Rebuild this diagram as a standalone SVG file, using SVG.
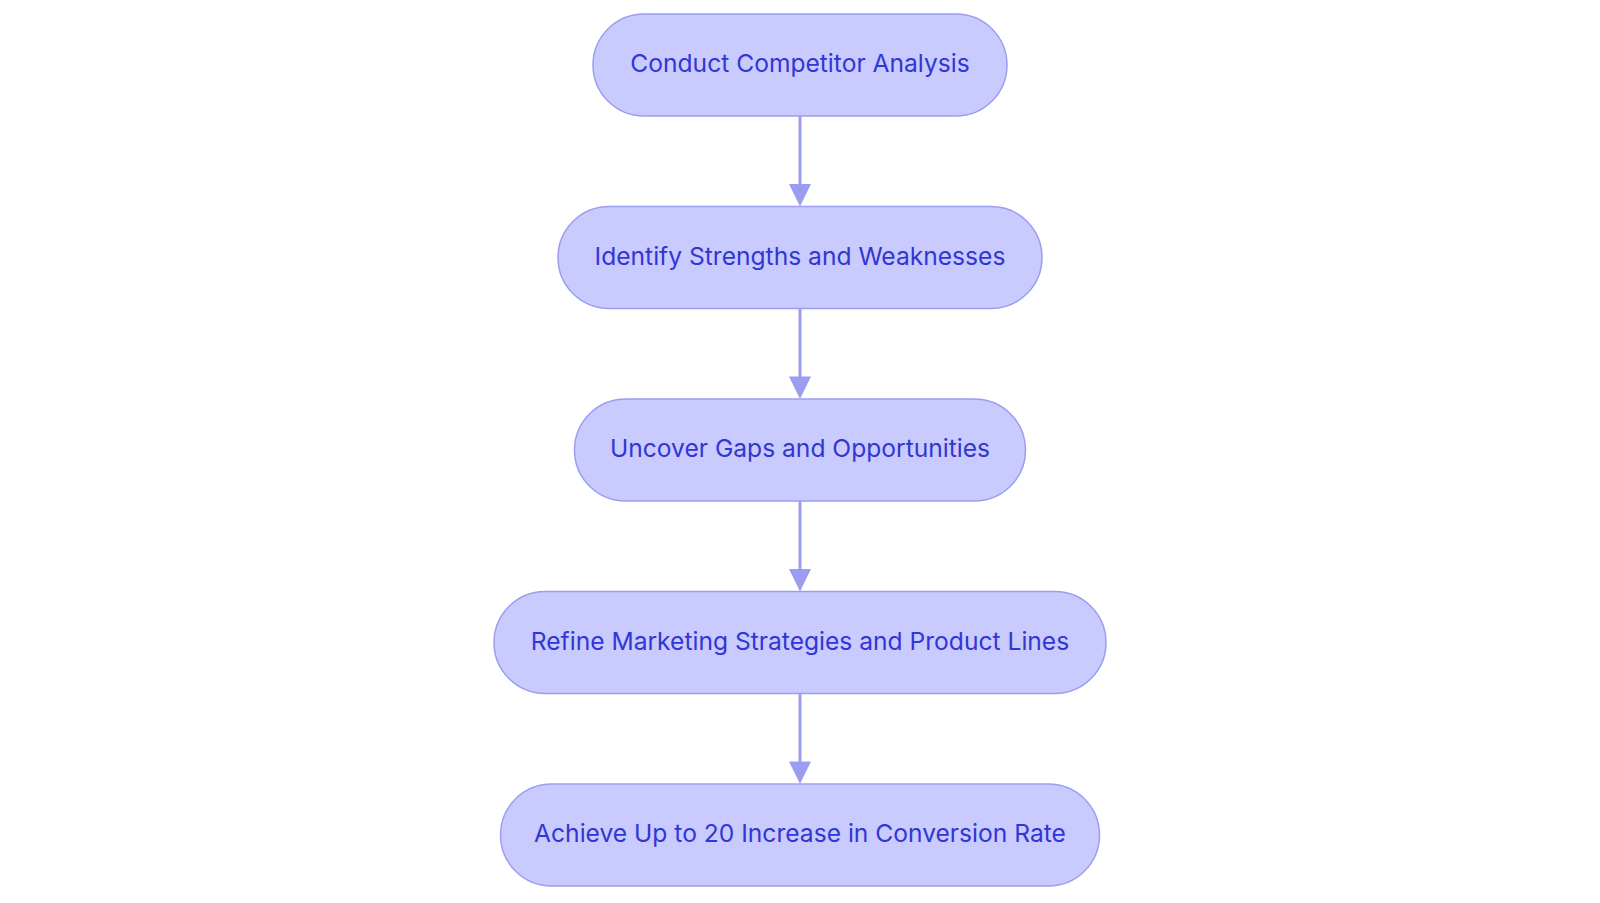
<svg xmlns="http://www.w3.org/2000/svg" width="1600" height="903" viewBox="0 0 1600 903">
<style>
.node rect{fill:#c9cafd;stroke:#9b9ef0;stroke-width:1.5}
.node text{font-family:Inter,"Noto Sans",sans-serif;font-size:24.6px;fill:#3136d4;text-anchor:middle;dominant-baseline:central}
.edge{stroke:#9b9ef0;stroke-width:3;fill:none}
.head{fill:#9b9ef0}
</style>
<rect width="1600" height="903" fill="#ffffff"/>
<g id="connectors">
<line class="edge" x1="800" y1="116" x2="800" y2="185"/>
<path class="head" d="M789,184 L811,184 L800,206.5 z"/>
<line class="edge" x1="800" y1="308.5" x2="800" y2="377.5"/>
<path class="head" d="M789,376.5 L811,376.5 L800,399 z"/>
<line class="edge" x1="800" y1="501" x2="800" y2="570"/>
<path class="head" d="M789,569 L811,569 L800,591.5 z"/>
<line class="edge" x1="800" y1="693.5" x2="800" y2="762.5"/>
<path class="head" d="M789,761.5 L811,761.5 L800,784 z"/>
</g>
<g id="n1" class="node"><rect x="593" y="14" width="414" height="102" rx="51"/><text x="800" y="63">Conduct Competitor Analysis</text></g>
<g id="n2" class="node"><rect x="558" y="206.5" width="484" height="102" rx="51"/><text x="800" y="255.5">Identify Strengths and Weaknesses</text></g>
<g id="n3" class="node"><rect x="574.5" y="399" width="451" height="102" rx="51"/><text x="800" y="448">Uncover Gaps and Opportunities</text></g>
<g id="n4" class="node"><rect x="494" y="591.5" width="612" height="102" rx="51"/><text x="800" y="640.5">Refine Marketing Strategies and Product Lines</text></g>
<g id="n5" class="node"><rect x="500.5" y="784" width="599" height="102" rx="51"/><text x="800" y="833">Achieve Up to 20 Increase in Conversion Rate</text></g>
</svg>
